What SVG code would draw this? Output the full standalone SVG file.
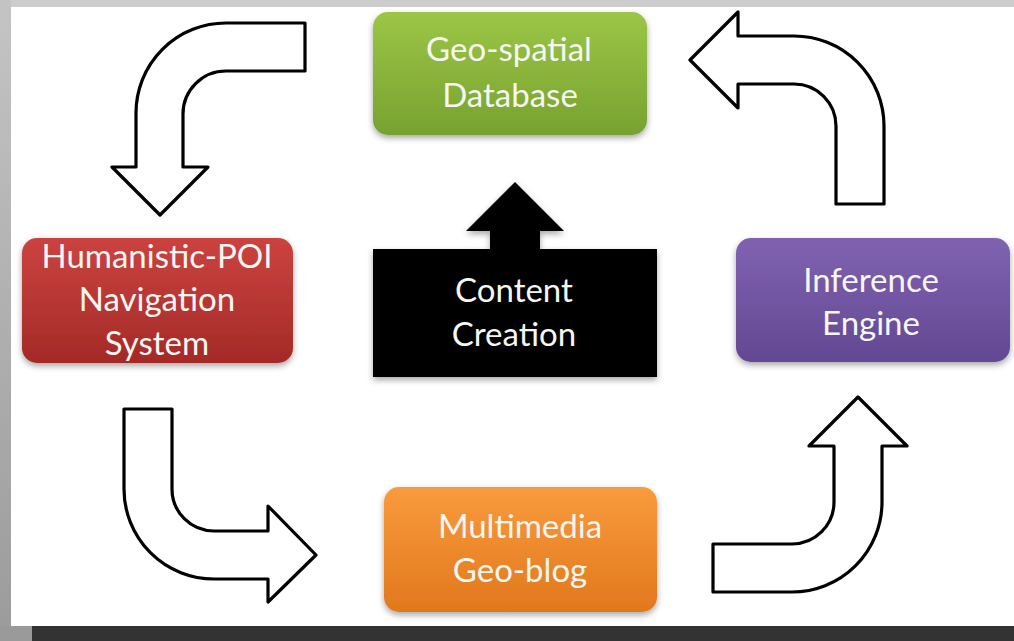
<svg xmlns="http://www.w3.org/2000/svg" width="1014" height="641" viewBox="0 0 1014 641">
<style>
.lbl{font-family:Lato,"Open Sans",sans-serif;font-size:33px;fill:#f6f6f2;text-anchor:middle}
.arr{fill:#ffffff;stroke:#000000;stroke-width:3.2;stroke-linejoin:round}
</style>
<defs>
<linearGradient id="gGreen" x1="0" y1="0" x2="0" y2="1"><stop offset="0" stop-color="#9cc646"/><stop offset="1" stop-color="#77a22f"/></linearGradient>
<linearGradient id="gRed" x1="0" y1="0" x2="0" y2="1"><stop offset="0" stop-color="#cb4340"/><stop offset="1" stop-color="#a42a27"/></linearGradient>
<linearGradient id="gPurple" x1="0" y1="0" x2="0" y2="1"><stop offset="0" stop-color="#8062b1"/><stop offset="1" stop-color="#634893"/></linearGradient>
<linearGradient id="gOrange" x1="0" y1="0" x2="0" y2="1"><stop offset="0" stop-color="#f99b3d"/><stop offset="1" stop-color="#e1781d"/></linearGradient>
<linearGradient id="gLeft" x1="0" y1="0" x2="0" y2="1"><stop offset="0" stop-color="#c4c4c4"/><stop offset="1" stop-color="#9b9b9b"/></linearGradient>
<filter id="sh" x="-10%" y="-10%" width="120%" height="130%"><feDropShadow dx="0" dy="3" stdDeviation="3" flood-color="#000" flood-opacity="0.35"/></filter>
</defs>
<rect x="0" y="0" width="1014" height="641" fill="#ffffff"/>
<rect x="0" y="0" width="1014" height="7" fill="#cdcdcd"/>
<rect x="0" y="0" width="11" height="641" fill="url(#gLeft)"/>
<rect x="0" y="626" width="32" height="15" fill="#9a9a9a"/>
<rect x="32" y="626" width="982" height="15" fill="#333333"/>

<g id="connectors">
<path class="arr" d="M 305 23 L 305 71 L 226 71 A 43 43 0 0 0 183 114 L 183 167 L 208 167 L 160 215 L 112 167 L 136 167 L 136 113 A 90 90 0 0 1 226 23 Z"/>
<path class="arr" d="M 690 60 L 738 12 L 738 36 L 794 36 A 90 90 0 0 1 884 126 L 884 204 L 836 204 L 836 126 A 42 42 0 0 0 794 84 L 738 84 L 738 108 Z"/>
<path class="arr" d="M 124 409 L 172 409 L 172 489 A 42 42 0 0 0 214 531 L 268 531 L 268 506 L 316 555 L 268 602 L 268 579 L 214 579 A 90 90 0 0 1 124 489 Z"/>
<path class="arr" d="M 713 544 L 792 544 A 42 42 0 0 0 834 502 L 834 446 L 809 446 L 858 397 L 907 446 L 882 446 L 882 502 A 90 90 0 0 1 792 592 L 713 592 Z"/>
</g>

<g id="geo-spatial-database">
<rect x="373" y="12" width="274" height="123" rx="15" fill="url(#gGreen)" filter="url(#sh)"/>
<text class="lbl" x="509" y="61">Geo-spatial</text>
<text class="lbl" x="510" y="107">Database</text>
</g>

<g id="humanistic-poi">
<rect x="22" y="238" width="271" height="125" rx="15" fill="url(#gRed)" filter="url(#sh)"/>
<text class="lbl" x="157" y="268">Humanistic-POI</text>
<text class="lbl" x="157" y="311">Navigation</text>
<text class="lbl" x="157" y="355">System</text>
</g>

<g id="inference-engine">
<rect x="736" y="238" width="274" height="124" rx="15" fill="url(#gPurple)" filter="url(#sh)"/>
<text class="lbl" x="871" y="292">Inference</text>
<text class="lbl" x="871" y="335">Engine</text>
</g>

<g id="multimedia-geo-blog">
<rect x="384" y="487" width="273" height="125" rx="15" fill="url(#gOrange)" filter="url(#sh)"/>
<text class="lbl" x="520" y="538">Multimedia</text>
<text class="lbl" x="520" y="582">Geo-blog</text>
</g>

<g id="content-creation">
<path d="M 373 249 L 490 249 L 490 231 L 466 231 L 515 182 L 564 231 L 540 231 L 540 249 L 657 249 L 657 377 L 373 377 Z" fill="#000000" filter="url(#sh)"/>
<text class="lbl" x="514" y="302">Content</text>
<text class="lbl" x="514" y="346">Creation</text>
</g>
</svg>
